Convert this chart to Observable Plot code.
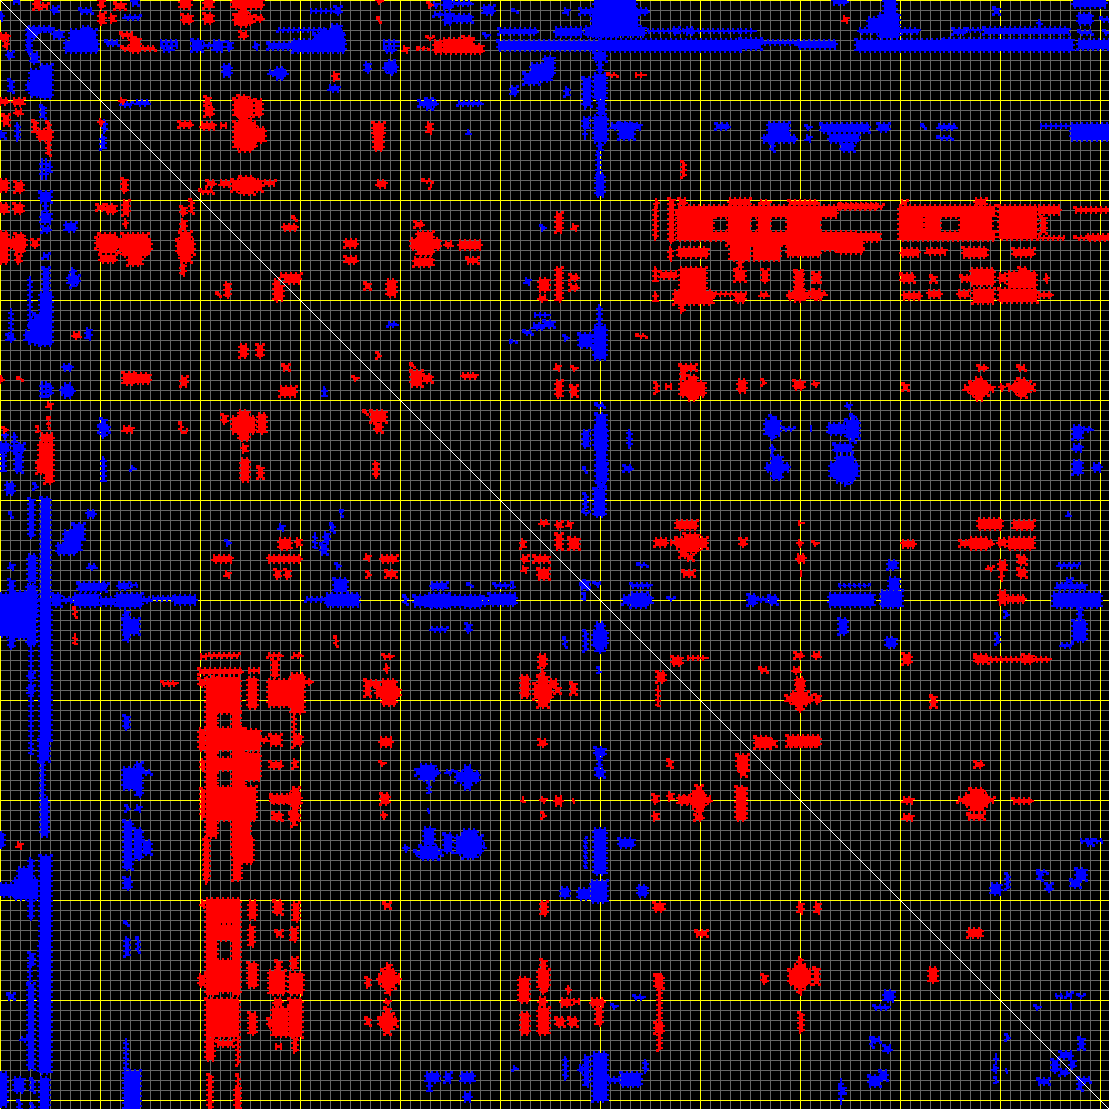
<!DOCTYPE html>
<html><head><meta charset="utf-8">
<style>html,body{margin:0;padding:0;background:#000}svg{display:block}</style>
<script src="https://cdn.jsdelivr.net/npm/d3@7"></script>
<script src="https://cdn.jsdelivr.net/npm/@observablehq/plot@0.6"></script>
</head><body><div id="chart"></div>
<script>
const matrixSize = 1109;
const minorTicks = [10,20,30,40,50,60,70,80,90,110,120,130,140,150,160,170,180,190,210,220,230,240,250,260,270,280,290,310,320,330,340,350,360,370,380,390,410,420,430,440,450,460,470,480,490,510,520,530,540,550,560,570,580,590,610,620,630,640,650,660,670,680,690,710,720,730,740,750,760,770,780,790,810,820,830,840,850,860,870,880,890,910,920,930,940,950,960,970,980,990,1010,1020,1030,1040,1050,1060,1070,1080,1090];
const majorTicks = [0,100,200,300,400,500,600,700,800,900,1000,1100];
// Upper-triangle regions [col1, col2, row1, row2]; the matrix is symmetric.
const positive = [
[34,40,0,9],[42,48,4,8],[99,104,0,8],[99,105,13,24],[110,115,15,22],[115,125,3,9],
[180,191,0,8],[182,192,15,23],[204,213,0,8],[204,213,14,23],[232,263,0,8],[240,247,8,14],[234,253,15,24],[238,248,12,26],[255,263,16,21],
[240,247,32,38],[130,140,38,52],[122,155,47,50],[121,133,33,37],
[333,338,73,80],[205,213,106,116],[205,210,97,105],[234,253,99,116],[238,248,96,119],[255,262,100,116],
[234,256,122,148],[240,252,119,151],[247,265,128,142],[179,192,122,127],[201,215,123,129],[220,227,124,127],[120,125,99,103],
[207,215,181,186],[200,213,190,193],[232,262,180,191],[240,254,177,194],[220,230,181,186],[264,275,181,185],
[345,357,240,247],[345,357,257,263],[280,301,274,278],[285,300,278,283],[283,297,225,230],[293,296,217,220],[365,370,283,289],
[377,382,0,3],[378,380,18,22],[428,432,3,7],
[443,473,39,53],[463,473,37,40],[434,442,41,53],[473,483,45,53],[427,433,37,39],[403,408,47,52],[418,428,48,49],
[373,384,123,135],[374,383,135,150],[427,432,123,133],[377,386,181,187],[423,432,180,182],[430,432,186,188],
[682,685,162,177],[635,645,74,76],[608,617,74,76],
[417,433,232,255],[411,440,239,249],[414,433,258,266],[415,423,222,227],[445,452,242,247],[459,481,241,249],[467,478,258,263],
[387,396,280,296],[556,562,213,232],[572,577,225,230],[556,562,268,301],[570,578,275,280],[570,578,285,290],[539,549,279,291],[539,546,296,301],
[637,646,335,337],[680,696,365,370],[555,560,365,370],[572,577,367,370],[377,380,353,358],[411,414,364,367],
[843,848,17,22],
[678,837,206,217],[837,883,205,208],[677,713,213,240],[728,750,217,232],[758,770,217,232],[787,820,217,232],
[710,857,232,240],[820,880,233,241],[820,863,240,250],[837,863,250,253],[678,708,248,257],[730,750,245,260],[753,780,242,260],[787,820,240,256],[727,820,240,245],
[669,674,199,242],[654,657,208,239],[655,658,200,207],[669,672,248,260],[729,750,199,205],[789,818,201,205],[679,686,199,205],[760,770,201,205],
[680,706,268,291],[674,713,291,304],[715,747,293,295],[735,745,270,281],[735,745,293,302],[738,742,260,268],[762,768,270,282],[760,768,293,297],
[795,803,271,299],[788,809,293,299],[813,820,273,282],[813,820,290,299],[840,878,204,209],[863,880,236,239],[654,657,268,282],[660,677,272,278],[654,657,293,302],[680,684,303,312],
[899,995,206,217],[899,923,217,232],[925,940,217,232],[960,992,217,232],[899,995,232,240],[975,986,199,205],[901,907,201,205],
[999,1037,206,239],[1038,1060,206,214],[1041,1046,217,233],[1038,1065,237,239],[1075,1109,237,239],[1087,1109,235,240],[1075,1109,208,212],
[901,919,249,256],[926,946,249,254],[963,987,248,257],
[1013,1034,249,256],[961,972,276,281],[971,994,269,285],[999,1006,274,282],[1008,1036,272,288],[1019,1027,268,273],[901,914,274,282],[931,936,276,282],[1045,1048,275,282],
[903,921,293,299],[928,941,291,297],[958,969,291,297],[973,994,289,303],[999,1037,289,302],[1038,1052,293,297],
[796,802,271,289],[813,819,273,282],[788,826,292,296],[794,804,289,301],[813,819,291,299],[978,987,366,370],[1018,1025,366,370],
[411,422,371,386],[423,432,375,382],[462,477,374,378],[556,562,381,397],[571,577,386,396],[655,658,383,393],[680,705,382,396],[688,697,376,400],[681,686,370,380],[665,672,385,388],[738,746,380,392],
[540,548,521,525],[556,562,522,528],[567,572,522,527],[556,562,534,549],[569,579,538,549],[655,667,539,546],[670,677,541,544],[676,707,538,548],[684,699,534,552],[680,687,550,557],[676,697,521,529],[687,693,555,560],[683,694,571,576],
[672,682,657,665],[687,707,657,659],
[794,804,381,389],[813,818,382,386],[762,765,380,385],[903,908,384,390],[970,988,382,395],[975,983,378,400],[964,994,386,391],[1000,1004,385,390],[1014,1030,382,393],[1018,1026,379,397],[1008,1034,385,390],
[740,746,539,546],[798,802,541,546],[813,818,542,545],[797,805,555,562],[798,803,522,524],[800,802,572,575],[902,915,541,547],
[960,993,541,546],[970,988,538,549],[978,1002,519,529],[998,1006,539,546],[1008,1034,538,549],[1013,1034,521,529],
[999,1006,561,571],[987,993,567,570],[1018,1026,556,564],[1018,1026,569,577],[1000,1003,573,580],[999,1006,591,604],[1007,1025,596,602],
[975,1050,658,661],[975,988,655,663],[1023,1033,655,663],[903,911,654,664],[795,803,653,658],[813,820,653,658],
[796,804,678,689],[792,808,692,705],[797,803,684,711],[786,813,696,702],[815,820,695,703],[793,800,668,673],[760,767,668,672],[931,936,696,707],
[755,770,737,748],[787,820,736,746],[740,746,761,776],[740,746,789,817],
[903,913,798,803],[903,913,815,820],[965,988,794,806],[970,984,789,811],[958,994,798,802],[968,984,814,819],[1013,1032,799,803],[975,983,762,767],[968,982,929,937]
];
const negative = [
[13,20,0,3],[52,58,7,13],[80,92,9,13],[132,138,0,5],[124,140,16,19],[310,335,10,12],[335,341,7,14],
[33,53,27,31],[28,38,27,36],[38,50,28,31],[53,63,31,38],[65,98,41,52],[70,96,30,41],[82,91,27,30],
[106,118,41,45],[160,178,41,43],[160,178,45,47],[163,173,49,51],[192,202,40,51],[213,223,41,51],[227,232,42,50],[203,212,44,47],[254,258,43,49],
[268,293,43,49],[293,345,40,52],[314,344,34,40],[320,343,30,34],[331,341,25,30],[278,325,29,31],
[365,370,63,72],[223,231,65,76],[269,287,71,75],[276,284,68,79],[329,339,86,91],[121,132,103,106],[136,149,101,105],
[443,452,0,9],[444,452,13,24],[453,472,15,22],[434,443,13,16],[453,472,2,5],[433,438,3,7],[483,494,6,14],[513,517,10,12],[564,569,9,14],
[498,600,41,50],[600,740,40,51],[499,537,29,34],[555,582,28,36],
[594,636,0,13],[580,648,9,14],[592,618,14,37],[585,645,27,36],[618,638,14,27],[594,606,52,61],[598,602,63,73],
[647,740,30,32],[673,679,28,34],[686,694,28,34],
[383,398,41,43],[383,398,45,47],[385,395,49,52],[384,397,64,71],[388,394,61,74],
[484,489,34,37],[544,554,57,76],[531,551,64,81],[524,539,73,84],
[583,591,78,106],[594,606,74,99],[598,605,100,115],[594,607,116,142],[598,602,143,151],[597,600,152,176],[596,604,174,196],
[584,587,102,108],[583,589,118,129],[584,586,130,138],[565,569,88,96],[511,517,87,95],
[419,437,101,106],[426,432,99,109],[458,482,102,105],[611,641,124,129],[619,634,123,139],[716,729,124,129],[467,470,131,135],[541,545,226,230],[525,530,279,284],
[598,601,306,330],[594,606,326,359],[579,592,334,347],[544,554,321,327],[533,543,324,329],[524,532,331,334],[534,549,314,316],[388,397,323,326],[511,516,341,342],[564,568,336,340],
[740,761,39,49],[762,800,41,44],[798,836,41,48],[740,755,30,32],
[856,943,40,51],[943,1073,39,51],[1078,1109,40,49],[859,919,29,33],[879,899,14,38],[884,896,0,14],[868,879,18,29],[833,847,0,4],
[953,966,29,34],[967,983,29,31],[984,1069,28,34],[1038,1041,21,27],[994,999,8,14],[1073,1106,0,7],[1078,1092,14,24],[1079,1092,31,34],[1101,1109,18,21],[1104,1109,31,34],
[768,789,123,136],[763,796,136,142],[771,774,143,151],[806,811,126,129],[806,811,136,141],
[821,869,124,132],[829,859,134,142],[841,854,143,151],[878,889,124,131],[938,956,125,129],[938,952,137,139],[922,925,125,128],[1071,1109,124,140],[1040,1070,125,127],
[596,604,404,407],[596,606,414,470],[594,607,428,449],[596,607,464,482],[597,605,483,488],[594,605,489,516],
[583,589,431,447],[584,586,468,472],[584,587,494,509],[583,589,512,514],[628,631,431,447],[624,632,466,471],
[638,647,564,566],[584,589,581,587],[594,601,583,584],[584,586,596,599],[623,652,596,604],[631,647,593,607],[631,651,584,587],[668,674,598,600],
[765,780,420,435],[770,775,416,439],[783,794,428,430],[810,812,427,430],[846,859,420,438],[851,855,415,442],[828,845,424,434],
[771,774,446,452],[766,789,464,471],[772,782,456,479],[834,852,444,452],[830,858,463,477],[836,854,456,482],[844,849,483,485],
[1073,1082,426,439],[1073,1082,445,451],[1073,1082,461,474],[1093,1101,464,471],[1083,1092,428,431],
[888,897,561,569],[889,899,578,590],[881,902,591,607],[829,874,594,606],[838,869,585,586],
[748,756,595,605],[769,777,596,604],[757,768,598,601],[839,847,619,634],[886,896,638,647],
[1053,1101,593,607],[1056,1086,584,589],[1066,1072,579,583],[1078,1082,608,620],[1073,1086,621,641],[1061,1072,644,647],[1058,1079,564,567],
[996,999,634,644],[1005,1008,612,617],[1067,1070,513,517],[846,851,404,408],
[991,1001,884,894],[1006,1009,874,889],[1038,1047,871,873],[1038,1042,873,880],[1046,1052,884,891],[1076,1086,869,880],[1071,1080,880,887],[1080,1103,840,842],[1087,1093,840,845],
[1066,1072,993,997],[1055,1063,995,997],[1078,1084,995,997],[1070,1072,1005,1008],[1035,1040,1006,1009],
[1079,1084,1038,1049],[1060,1072,1052,1058],[1078,1090,1078,1082],[1070,1075,1060,1068]
];
const toRow = sign => b => ({a1:b[0],a2:b[1],b1:b[2],b2:b[3],sign});
const upper = [...negative.map(toRow("negative")),...positive.map(toRow("positive"))];
const lower = upper.map(d => ({a1:d.b1,a2:d.b2,b1:d.a1,b2:d.a2,sign:d.sign}));
const regions = [...upper,...lower];
const diagonal = d3.range(matrixSize);
const chart = Plot.plot({
  width: matrixSize, height: matrixSize, margin: 0,
  style: {background:"#000"},
  x: {domain:[0,matrixSize], range:[0,matrixSize], axis:null},
  y: {domain:[0,matrixSize], range:[0,matrixSize], axis:null},
  color: {domain:["positive","negative"], range:["#ff0000","#0000ff"]},
  marks: [
    Plot.ruleX(minorTicks,{stroke:"#666",strokeWidth:1}),
    Plot.ruleY(minorTicks,{stroke:"#666",strokeWidth:1}),
    Plot.ruleX(majorTicks,{stroke:"#ffff00",strokeWidth:1}),
    Plot.ruleY(majorTicks,{stroke:"#ffff00",strokeWidth:1}),
    Plot.rect(regions,{x1:"a1",x2:"a2",y1:"b1",y2:"b2",fill:"sign",stroke:"sign",strokeWidth:4,strokeDasharray:"2 3",shapeRendering:"crispEdges"}),
    Plot.rect(diagonal,{x1:d=>d,x2:d=>d+1,y1:d=>d,y2:d=>d+1,fill:"#fff",shapeRendering:"crispEdges"})
  ]
});
document.getElementById("chart").append(chart);
</script></body></html>
